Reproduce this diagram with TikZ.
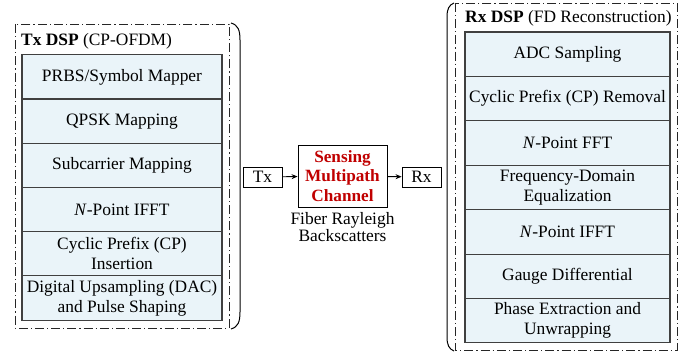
\documentclass[tikz,border=0pt]{standalone}
\usepackage{fontspec}
\setmainfont{Liberation Serif}
\usetikzlibrary{arrows.meta}
\definecolor{rowfill}{HTML}{EAF4F9}
\definecolor{rowline}{HTML}{404040}
\definecolor{chanred}{HTML}{C00000}
\tikzset{
  rowbox/.style={draw=rowline, line width=1.1pt, fill=rowfill, minimum height=44.3pt, inner sep=0pt, align=center, font=\fontsize{17.4}{20}\selectfont},
  ddbox/.style={draw=black!85, line width=0.9pt, dash pattern=on 9pt off 3pt on 1.2pt off 3pt},
  brk/.style={draw=black, line width=1pt},
  smallbox/.style={draw=black, line width=0.9pt, inner sep=0pt, minimum width=39pt, minimum height=20pt, font=\fontsize{17.4}{20}\selectfont},
  arr/.style={-{Stealth[length=6pt,width=5pt]}, line width=0.9pt},
  ttl/.style={anchor=west, inner sep=0pt, font=\fontsize{17.4}{20}\selectfont}
}
\begin{document}
\begin{tikzpicture}[x=1pt,y=-1pt]
\useasboundingbox (0,0) rectangle (694,355);
% ---- Tx side
\draw[ddbox] (15,24) rectangle (229,328);
\draw[brk] (231,23) .. controls (238,25) and (240,30) .. (240,40) -- (240,312) .. controls (240,322) and (238,327) .. (231,329);
\node[ttl] (txt) at (21,41) {\textbf{Tx DSP} (CP-OFDM)};
\foreach \i/\t in {0/{PRBS/Symbol Mapper},1/{QPSK Mapping},2/{Subcarrier Mapping},3/{\textit{N}-Point IFFT},4/{Cyclic Prefix (CP)\\Insertion},5/{Digital Upsampling (DAC)\\and Pulse Shaping}}{
  \node[rowbox, minimum width=200pt] (t\i) at (122,{77+44.2*\i}) {\t};
}
% ---- Rx side
\draw[ddbox] (455,3) rectangle (677,350);
\draw[brk] (454,3) .. controls (449,5) and (447,9) .. (447,17) -- (447,337) .. controls (447,345) and (449,349) .. (454,351);
\node[ttl] (rxt) at (465,18.5) {\textbf{Rx DSP} (FD Reconstruction)};
\foreach \i/\t in {0/{ADC Sampling},1/{Cyclic Prefix (CP) Removal},2/{\textit{N}-Point FFT},3/{Frequency-Domain\\Equalization},4/{\textit{N}-Point IFFT},5/{Gauge Differential},6/{Phase Extraction and\\Unwrapping}}{
  \node[rowbox, minimum width=205pt] (r\i) at (567.5,{54.2+44.43*\i}) {\t};
}
% ---- middle
\node[smallbox] (tx) at (262.5,177) {Tx};
\node[draw=black, line width=0.9pt, minimum width=89pt, minimum height=62pt, inner sep=0pt, align=center, text=chanred, font=\fontsize{17.2}{19.5}\selectfont\bfseries] (ch) at (342.5,176) {Sensing\\Multipath\\Channel};
\node[smallbox] (rx) at (421.5,177) {Rx};
\node[align=center, inner sep=0pt, font=\fontsize{17.4}{17.5}\selectfont] (fb) at (342.5,227) {Fiber Rayleigh\\Backscatters};
\draw[arr] (tx) -- (ch);
\draw[arr] (ch) -- (rx);
\end{tikzpicture}
\end{document}
